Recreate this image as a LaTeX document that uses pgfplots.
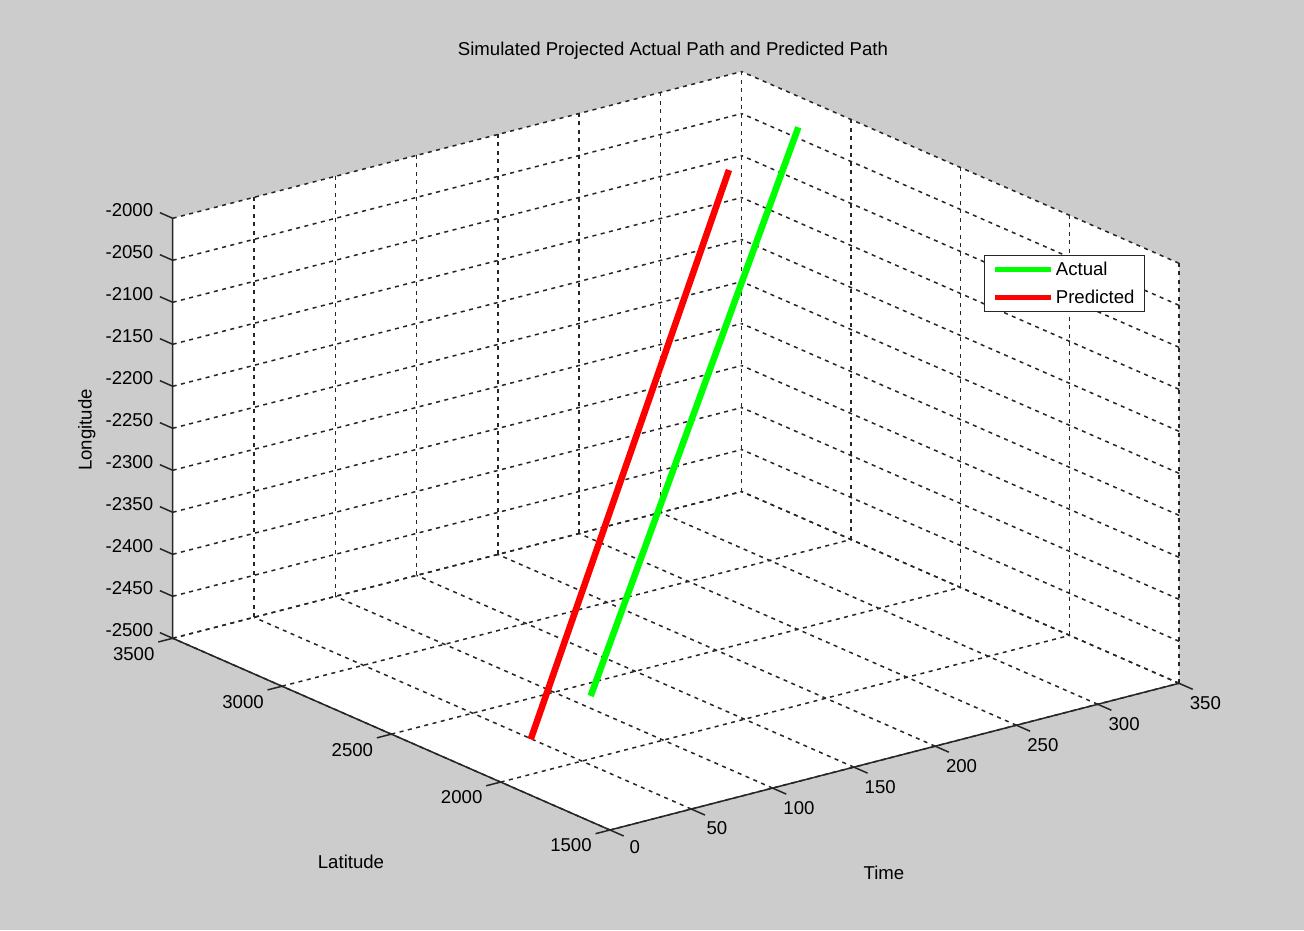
\documentclass[border=0pt]{standalone}
\usepackage{fontspec}
\setmainfont{Liberation Sans}
\usepackage{pgfplots}
\pgfplotsset{compat=1.18}
\usetikzlibrary{calc}
\pgfdeclarelayer{background}
\pgfsetlayers{background,main}
\definecolor{bggray}{RGB}{204,204,204}
\definecolor{mgreen}{RGB}{0,255,0}
\definecolor{mred}{RGB}{255,0,0}
\definecolor{axcol}{RGB}{38,38,38}
\begin{document}
\begin{tikzpicture}[font=\fontsize{18.6}{22.3}\selectfont]
\begin{axis}[
  x={(1.62571pt,0.41914pt)}, y={(-0.21865pt,0.09585pt)}, z={(0pt,0.84pt)},
  xmin=0,xmax=350,ymin=1500,ymax=3500,zmin=-2500,zmax=-2000,
  xtick={0,50,...,350}, xticklabels={0,50,100,150,200,250,300,350},
  ytick={1500,2000,2500,3000,3500}, yticklabels={1500,2000,2500,3000,3500},
  ztick={-2500,-2450,...,-2000},
  zticklabels={-2500,-2450,-2400,-2350,-2300,-2250,-2200,-2150,-2100,-2050,-2000},
  xticklabel style={xshift=18pt, yshift=-7pt},
  yticklabel style={xshift=-27pt},
  zticklabel style={xshift=-16pt, yshift=6pt},
  grid=major,
  major grid style={draw=axcol, line width=1.5pt, dash pattern=on 4pt off 4.5pt},
  axis line style={draw=none},
  tick style={draw=none},
  major tick length=0pt,
  tick pos=left,
  clip=false,
  legend style={at={(0.8065,0.7585)}, anchor=north west, draw=axcol, line width=1.2pt, fill=white,
    font=\fontsize{18.6}{22.3}\selectfont, inner xsep=8pt, inner ysep=5pt, row sep=8.5pt},
  legend cell align=left,
  legend image code/.code={\draw[#1, line width=5pt] (0pt,0pt) -- (56pt,0pt);},
]
\addplot3[color=mgreen, line width=6.5pt, no markers] coordinates {(110.9,2413,-2500) (322.7,3038,-2000)};
\addplot3[color=mred, line width=6.5pt, no markers] coordinates {(49.4,2230,-2500) (258.1,2875,-2000)};
\legend{Actual,Predicted}
\coordinate (fc) at (axis cs:0,1500,-2500);
\coordinate (lb) at (axis cs:0,3500,-2500);
\coordinate (lt) at (axis cs:0,3500,-2000);
\coordinate (bt) at (axis cs:350,3500,-2000);
\coordinate (rt) at (axis cs:350,1500,-2000);
\coordinate (rb) at (axis cs:350,1500,-2500);
\end{axis}
\draw[axcol, line width=1.5pt] (lt) -- (lb) -- (fc) -- (rb);
% tick marks (MATLAB style, pointing outward along the other axes)
\foreach \t in {0,50,...,350}
  \draw[axcol, line width=1.5pt] ($(fc)+({\t*1.62571pt},{\t*0.41914pt})$) -- ++(13.7pt,-6pt);
\foreach \l in {0,500,...,2000}
  \draw[axcol, line width=1.5pt] ($(fc)+({-\l*0.21865pt},{\l*0.09585pt})$) -- ++(-14.5pt,-3.7pt);
\foreach \z in {0,50,...,500}
  \draw[axcol, line width=1.5pt] ($(lb)+(0pt,{\z*0.84pt})$) -- ++(-12.8pt,5.6pt);
\node at ($(fc)+(63pt,779pt)$) {Simulated Projected Actual Path and Predicted Path};
\node at ($(fc)+(-259pt,-32.3pt)$) {Latitude};
\node at ($(fc)+(274pt,-43pt)$) {Time};
\node[rotate=90] at ($(fc)+(-523.3pt,400pt)$) {Longitude};
\begin{pgfonlayer}{background}
\fill[bggray] ($(fc)+(-610pt,-100pt)$) rectangle ($(fc)+(694pt,830pt)$);
\fill[white] (fc) -- (lb) -- (lt) -- (bt) -- (rt) -- (rb) -- cycle;
\end{pgfonlayer}
\end{tikzpicture}
\end{document}
